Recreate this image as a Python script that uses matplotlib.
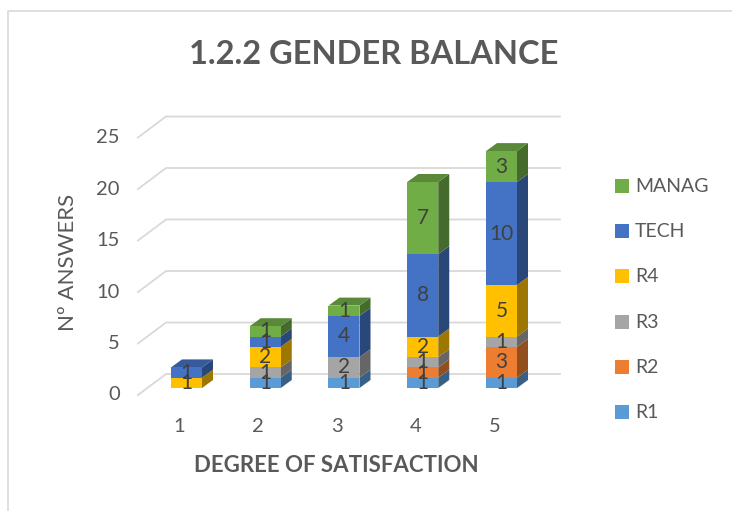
import matplotlib
matplotlib.use('Agg')
import matplotlib.pyplot as plt
from matplotlib.patches import Polygon, Rectangle
import numpy as np

categories = ['1', '2', '3', '4', '5']
series_names = ['R1', 'R2', 'R3', 'R4', 'TECH', 'MANAG']
r1 = [0, 1, 1, 1, 1]
r2 = [0, 0, 0, 1, 3]
r3 = [0, 1, 2, 1, 1]
r4 = [1, 2, 0, 2, 5]
tech = [1, 1, 4, 8, 10]
manag = [0, 1, 1, 7, 3]
y_ticks = [0, 5, 10, 15, 20, 25]

colors = ['#5B9BD5', '#ED7D31', '#A5A5A5', '#FFC000', '#4472C4', '#70AD47']


def shade(hex_color, f):
    c = np.array([int(hex_color[i:i + 2], 16) for i in (1, 3, 5)]) / 255.0
    return tuple(c * f)


def main():
    plt.rcParams['font.family'] = ['Lato', 'DejaVu Sans']
    W, H = 732, 511
    fig = plt.figure(figsize=(W / 100, H / 100), dpi=100)

    # pixel mapping of the "3d" plot
    X0, SX = 186.5, 78.75   # px of category 1, px per category
    Y0, SY = 388.0, 10.3    # px of value 0 (bar base), px per unit
    box = (120, 100, 580, 440)  # left, top, right, bottom in px
    ax = fig.add_axes([box[0] / W, 1 - box[3] / H, (box[2] - box[0]) / W, (box[3] - box[1]) / H])
    ax.set_xlim((box[0] - X0) / SX + 1, (box[2] - X0) / SX + 1)
    ax.set_ylim((Y0 - box[3]) / SY, (Y0 - box[1]) / SY)
    ax.axis('off')

    def xd(px):
        return (px - X0) / SX + 1

    grid_col = '#d9d9d9'
    xf, xb, xe = xd(138), xd(166), xd(560)
    dyf, dyb = -7 / SY, 14 / SY
    for v in y_ticks:
        ax.plot([xf, xb, xe], [v + dyf, v + dyb, v + dyb], color=grid_col, lw=1.3, zorder=1,
                solid_joinstyle='miter')
        ax.text(xd(120), v + dyf, str(v), ha='right', va='center', fontsize=14.5, color='#595959')

    for i, c in enumerate(categories):
        ax.text(i + 1 - 7 / SX, (Y0 - 427) / SY, c, ha='center', va='center', fontsize=14.5, color='#595959')

    data = [r1, r2, r3, r4, tech, manag]
    bw = 31 / SX
    ddx, ddy = 11 / SX, 8 / SY
    x = np.arange(1, len(categories) + 1)
    bottom = np.zeros(len(categories))
    top_idx = [max(j for j in range(len(data)) if data[j][i] > 0) for i in range(len(categories))]
    for j, vals in enumerate(data):
        vals = np.array(vals, dtype=float)
        for i in range(len(categories)):
            h = vals[i]
            if h <= 0:
                continue
            b = bottom[i]
            xr = x[i] + bw / 2
            xl = x[i] - bw / 2
            ax.add_patch(Rectangle((xl, b), bw, h, facecolor=colors[j], edgecolor='none', zorder=3))
            ax.add_patch(Polygon([(xr, b), (xr + ddx, b + ddy), (xr + ddx, b + h + ddy), (xr, b + h)],
                                 facecolor=shade(colors[j], 0.62), edgecolor='none', zorder=2.9))
            if j == top_idx[i]:
                ax.add_patch(Polygon([(xl, b + h), (xl + ddx, b + h + ddy), (xr + ddx, b + h + ddy), (xr, b + h)],
                                     facecolor=shade(colors[j], 0.8), edgecolor='none', zorder=2.9))
            ax.text(x[i], b + h / 2, str(int(h)), ha='center', va='center', fontsize=15,
                    color='#404040', zorder=5)
        bottom += vals

    # legend
    leg_y = {'MANAG': 186, 'TECH': 231, 'R4': 276, 'R3': 322, 'R2': 367, 'R1': 412}
    for j, name in enumerate(series_names):
        py = leg_y[name]
        fig.add_artist(Rectangle((615 / W, 1 - (py + 7) / H), 14 / W, 14 / H,
                                 facecolor=colors[j], edgecolor='none', transform=fig.transFigure))
        fig.text(635 / W, 1 - py / H, name, ha='left', va='center', fontsize=14, color='#595959')

    fig.text(374 / W, 1 - 54 / H, '1.2.2 GENDER BALANCE', ha='center', va='center',
             fontsize=23.5, fontweight='bold', color='#595959')
    fig.text(68 / W, 1 - 262 / H, 'Nº ANSWERS', ha='center', va='center', rotation=90,
             fontsize=16, color='#595959')
    fig.text(336 / W, 1 - 465 / H, 'DEGREE OF SATISFACTION', ha='center', va='center',
             fontsize=16, fontweight='bold', color='#595959')

    # chart frame
    fig.add_artist(plt.Line2D([8 / W, 8 / W, 1], [0, 1 - 11 / H, 1 - 11 / H], color='#d9d9d9',
                              lw=1.2, transform=fig.transFigure))

    fig.savefig('out.png', dpi=100, facecolor='white')


if __name__ == '__main__':
    main()
